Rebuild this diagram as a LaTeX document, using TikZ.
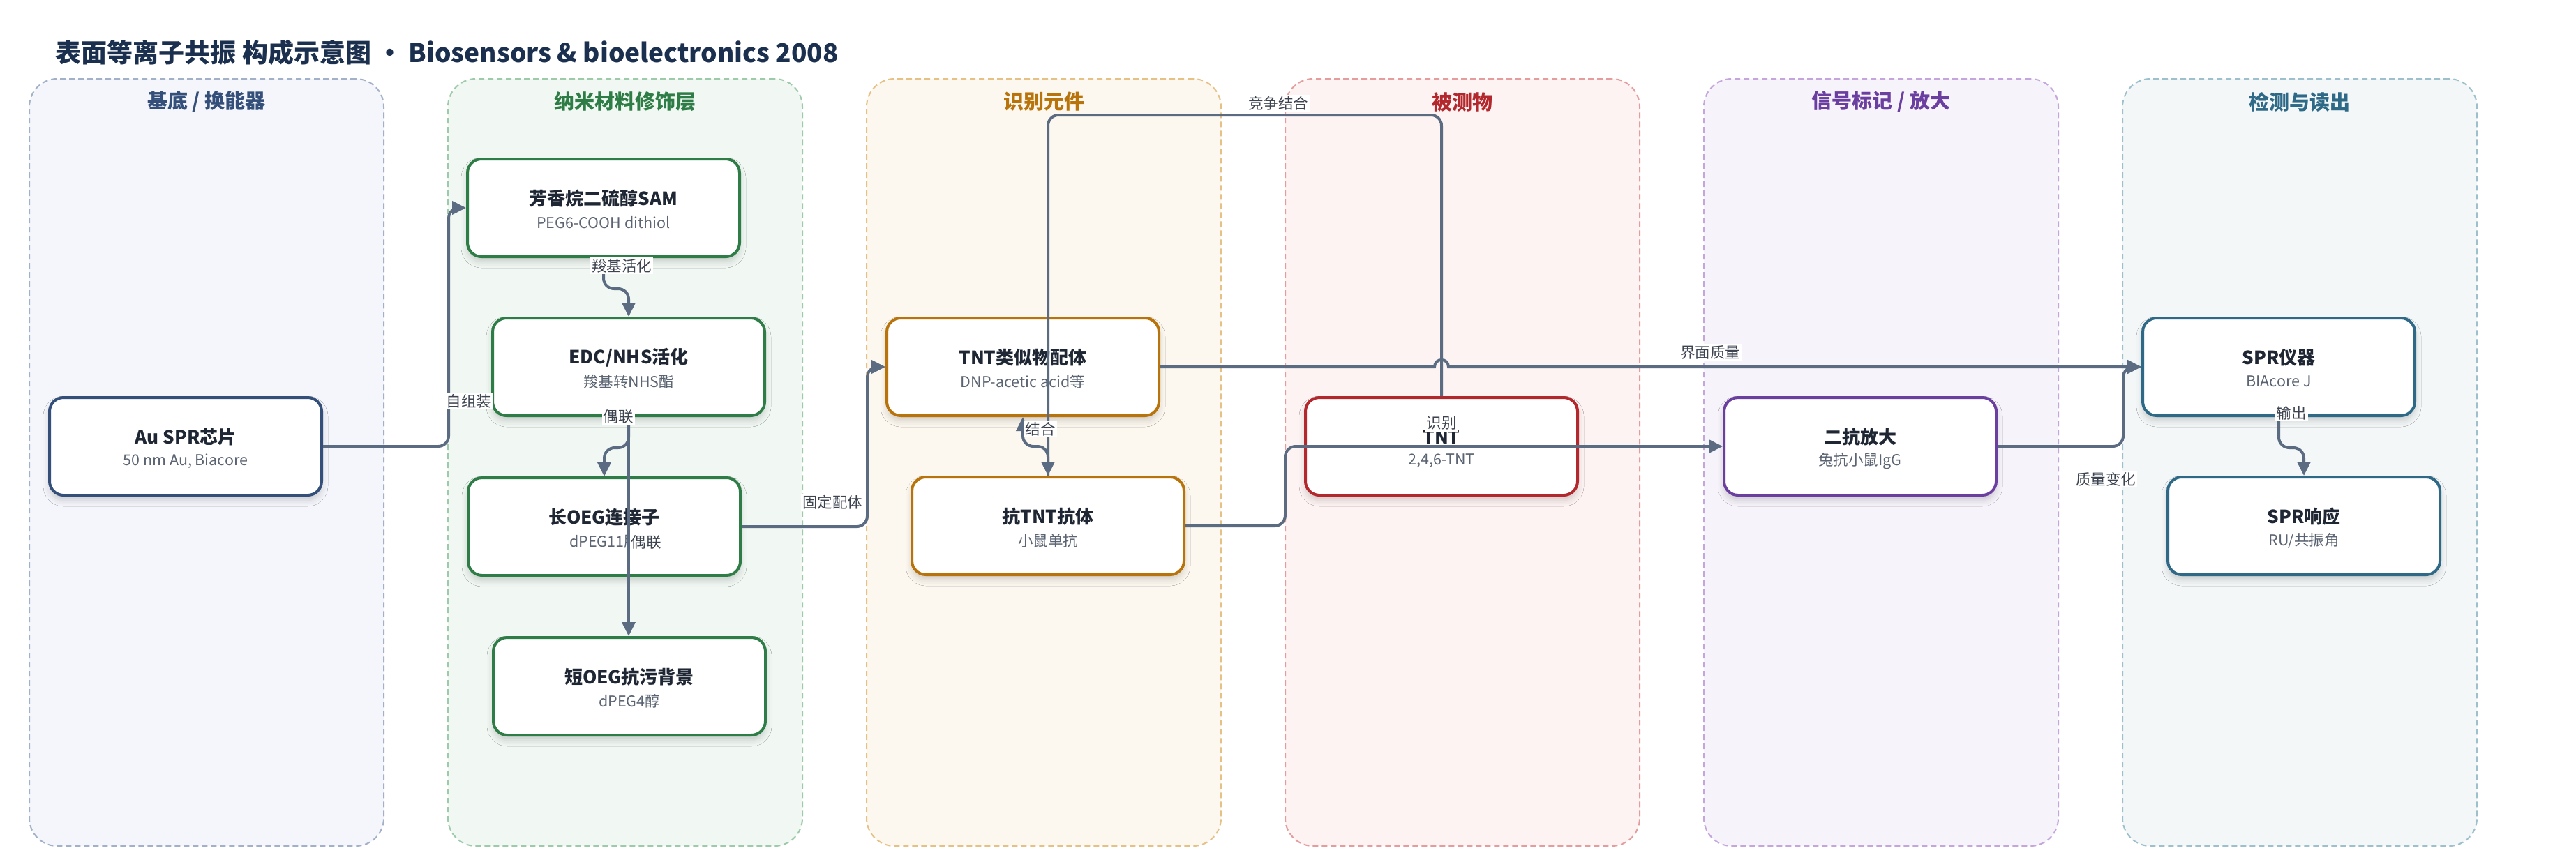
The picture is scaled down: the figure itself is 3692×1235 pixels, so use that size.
\documentclass[tikz,border=0pt]{standalone}
\usepackage{fontspec}
\setmainfont{Noto Sans CJK SC}
\usetikzlibrary{arrows.meta,shadows.blur}
\definecolor{titleink}{HTML}{1B2F4E}
\definecolor{ink}{HTML}{1E2733}
\definecolor{subink}{HTML}{5B6472}
\definecolor{lblink}{HTML}{3D4450}
\definecolor{edgec}{HTML}{5B6B82}
\definecolor{fA}{HTML}{F4F6FB}\definecolor{dA}{HTML}{A3B1C8}\definecolor{hA}{HTML}{34507A}
\definecolor{fB}{HTML}{F1F8F3}\definecolor{dB}{HTML}{9DCAA9}\definecolor{hB}{HTML}{2E7D46}
\definecolor{fC}{HTML}{FDF8EF}\definecolor{dC}{HTML}{E6C185}\definecolor{hC}{HTML}{B8730A}
\definecolor{fD}{HTML}{FDF3F2}\definecolor{dD}{HTML}{E49C9C}\definecolor{hD}{HTML}{B3282D}
\definecolor{fE}{HTML}{F7F3FB}\definecolor{dE}{HTML}{C4A6DC}\definecolor{hE}{HTML}{6B3FA0}
\definecolor{fF}{HTML}{F3F7F8}\definecolor{dF}{HTML}{9DC0CC}\definecolor{hF}{HTML}{2E6A88}
\newcommand\bx[6]{%
  \node[box,draw=#4] (#1) at (#2,#3) {};
  \node[ttl] (#1t) at (#2,#3-13) {#5};
  \node[subt] (#1s) at (#2,#3+21) {#6};}
\begin{document}
\begin{tikzpicture}[x=1pt,y=-1pt,
  lane/.style={rounded corners=40pt, line width=2pt, dash pattern=on 8pt off 5pt,
    minimum width=508pt, minimum height=1100pt, inner sep=0pt},
  lanehead/.style={font=\bfseries\fontsize{29pt}{33pt}\selectfont},
  box/.style={rounded corners=20pt, line width=4pt, fill=white, minimum width=390pt,
    minimum height=140pt, inner sep=0pt,
    blur shadow={shadow xshift=0pt, shadow yshift=-7pt, shadow blur radius=9pt, shadow opacity=18}},
  ttl/.style={font=\bfseries\fontsize{26pt}{30pt}\selectfont, text=ink},
  subt/.style={font=\fontsize{21.5pt}{25pt}\selectfont, text=subink},
  conn/.style={draw=edgec, line width=4pt, rounded corners=15pt, -{Triangle[length=20pt,width=19pt]}},
  elabel/.style={fill=white, inner sep=2pt, font=\fontsize{21.5pt}{25pt}\selectfont, text=lblink}]
\path[use as bounding box, fill=white] (0,0) rectangle (3692,1235);
\node[anchor=west, font=\bfseries\fontsize{37pt}{41pt}\selectfont, text=titleink] (title) at (76,75)
  {表面等离子共振 构成示意图 · Biosensors \& bioelectronics 2008};
% lanes
\node[lane,draw=dA,fill=fA] (laneA) at (296,663) {};
\node[lane,draw=dB,fill=fB] (laneB) at (896,663) {};
\node[lane,draw=dC,fill=fC] (laneC) at (1496,663) {};
\node[lane,draw=dD,fill=fD] (laneD) at (2096,663) {};
\node[lane,draw=dE,fill=fE] (laneE) at (2696,663) {};
\node[lane,draw=dF,fill=fF] (laneF) at (3296,663) {};
\node[lanehead,text=hA] (laneAh) at (296,146) {基底 / 换能器};
\node[lanehead,text=hB] (laneBh) at (896,146) {纳米材料修饰层};
\node[lanehead,text=hC] (laneCh) at (1496,146) {识别元件};
\node[lanehead,text=hD] (laneDh) at (2096,146) {被测物};
\node[lanehead,text=hE] (laneEh) at (2696,146) {信号标记 / 放大};
\node[lanehead,text=hF] (laneFh) at (3296,146) {检测与读出};
% boxes
\bx{au}{266}{640}{hA}{Au SPR芯片}{50 nm Au, Biacore}
\bx{sam}{865}{298}{hB}{芳香烷二硫醇SAM}{PEG6-COOH dithiol}
\bx{edc}{901}{526}{hB}{EDC/NHS活化}{羧基转NHS酯}
\bx{loeg}{866}{755}{hB}{长OEG连接子}{dPEG11肼}
\bx{soeg}{902}{984}{hB}{短OEG抗污背景}{dPEG4醇}
\bx{lig}{1466}{526}{hC}{TNT类似物配体}{DNP-acetic acid等}
\bx{ab}{1502}{754}{hC}{抗TNT抗体}{小鼠单抗}
\bx{tnt}{2066}{640}{hD}{TNT}{2,4,6-TNT}
\bx{sec}{2666}{640}{hE}{二抗放大}{兔抗小鼠IgG}
\bx{spr}{3266}{526}{hF}{SPR仪器}{BIAcore J}
\bx{resp}{3302}{754}{hF}{SPR响应}{RU/共振角}
% connectors
\draw[conn] (au.east) -- ++(180,0) |- (sam.west);
\draw[conn] (sam.south) -- ++(0,44) -| (edc.north);
\draw[conn] (edc.south) -- ++(0,44) -| (loeg.north);
\draw[conn] (edc.south) -- (edc.south |- soeg.north);
\draw[conn] (loeg.east) -- ++(180,0) |- (lig.west);
\draw[conn] (ab.north) -- ++(0,-42) -| (lig.south);
\draw[conn] (tnt.north) -- (2066,165) -| (ab.north);
\draw[conn] (ab.east) -- (1842,754) |- (sec.west);
\draw[conn, sharp corners] (lig.east) -- (2056,526) .. controls (2056,512.7) and (2076,512.7) .. (2076,526) -- (spr.west);
\draw[conn] (sec.east) -- (3043,640) |- (spr.west);
\draw[conn] (spr.south) -- ++(0,44) -| (resp.north);
% labels
\node[elabel] (l1) at (672,575) {自组装};
\node[elabel] (l2) at (891,381) {羧基活化};
\node[elabel] (l3) at (886,597) {偶联};
\node[elabel] (l4) at (926,777) {偶联};
\node[elabel] (l5) at (1193,720) {固定配体};
\node[elabel] (l6) at (1491,615) {结合};
\node[elabel] (l7) at (1832,148) {竞争结合};
\node[elabel] (l8) at (2066,607) {识别};
\node[elabel] (l9) at (2451,505) {界面质量};
\node[elabel] (l10) at (3018,687) {质量变化};
\node[elabel] (l11) at (3284,592) {输出};
\end{tikzpicture}
\end{document}
